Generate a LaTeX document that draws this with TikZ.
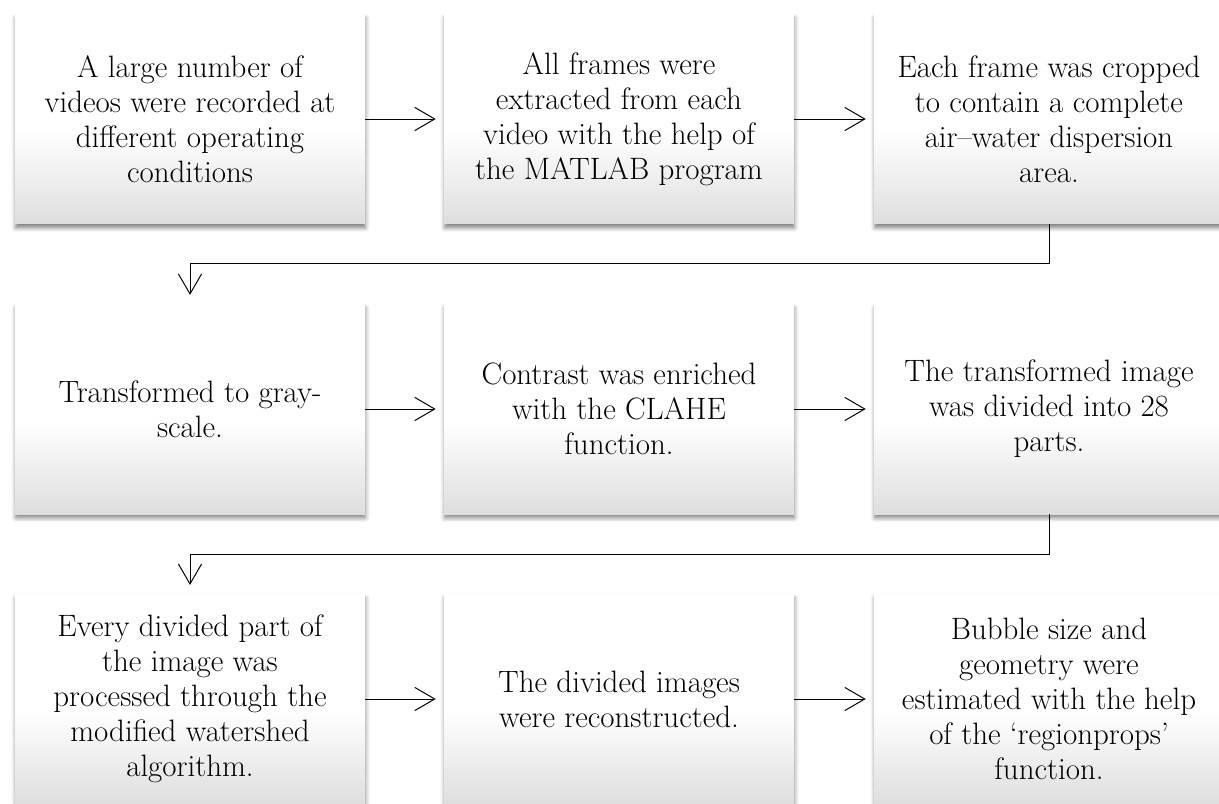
\documentclass[tikz,border=0pt]{standalone}
\usepackage{tikz}
\usetikzlibrary{arrows.meta,shadows.blur}
\pgfdeclareverticalshading{boxfade}{100bp}{color(0bp)=(gray!26); color(25bp)=(gray!26); color(47bp)=(white); color(100bp)=(white)}

\begin{document}
\begin{tikzpicture}[
		stepbox/.style={rectangle,minimum width=8.75cm,minimum height=5.25cm,align=center,
			shading=boxfade,
			blur shadow={shadow xshift=0.4pt,shadow yshift=-2.8pt,shadow blur radius=3pt,shadow opacity=50},
			font=\fontsize{22}{24.9}\selectfont},
		flow/.style={line width=0.7pt,-{Straight Barb[length=0.5cm,width=0.58cm,line width=0.7pt]}}]
		\useasboundingbox (0,0) rectangle (30.475,-20.1);
		%	\draw[very thin,color=gray] (0,-20.1) grid (30.475,0);
		\node[stepbox] (frames1) at (4.75,-2.975) {A large number of\\ videos were recorded at\\ different operating\\ conditions};
		\node[stepbox] (frames2) at (15.475,-2.975) {All frames were\\ extracted from each\\ video with the help of\\ the MATLAB program};
		\node[stepbox] (frames3) at (26.225,-2.975) {Each frame was cropped\\ to contain a complete\\ air--water dispersion\\ area.};
		\node[stepbox] (gray1) at (4.75,-10.225) {Transformed to gray-\\ scale.};
		\node[stepbox] (gray2) at (15.475,-10.225) {Contrast was enriched\\ with the CLAHE\\ function.};
		\node[stepbox] (gray3) at (26.225,-10.225) {The transformed image\\ was divided into 28\\ parts.};
		\node[stepbox] (parts1) at (4.75,-17.475) {Every divided part of\\ the image was\\ processed through the\\ modified watershed\\ algorithm.};
		\node[stepbox] (parts2) at (15.475,-17.475) {The divided images\\ were reconstructed.};
		\node[stepbox] (parts3) at (26.225,-17.475) {Bubble size and\\ geometry were\\ estimated with the help\\ of the `regionprops'\\ function.};
		\draw[flow,shorten >=0.2cm] (frames1.east) -- (frames2.west);
		\draw[flow,shorten >=0.2cm] (frames2.east) -- (frames3.west);
		\draw[flow,shorten >=0.22cm] (frames3.south) -- ++(0,-0.975) -| (gray1.north);
		\draw[flow,shorten >=0.2cm] (gray1.east) -- (gray2.west);
		\draw[flow,shorten >=0.2cm] (gray2.east) -- (gray3.west);
		\draw[flow,shorten >=0.22cm] (gray3.south) -- ++(0,-1) -| (parts1.north);
		\draw[flow,shorten >=0.2cm] (parts1.east) -- (parts2.west);
		\draw[flow,shorten >=0.2cm] (parts2.east) -- (parts3.west);
\end{tikzpicture}
\end{document}
